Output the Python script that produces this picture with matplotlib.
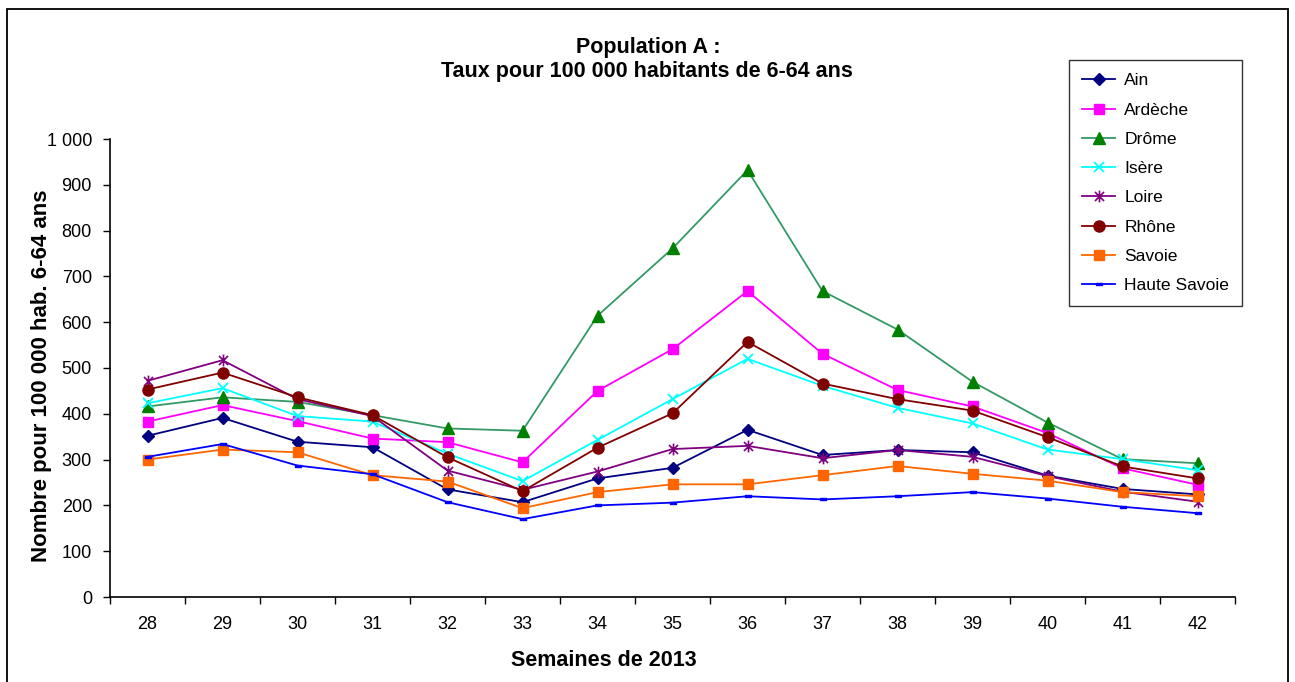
import matplotlib
matplotlib.use("Agg")
import matplotlib.pyplot as plt
from matplotlib.path import Path
from matplotlib.patches import Rectangle
from matplotlib.ticker import FuncFormatter, FixedLocator

plt.rcParams['font.family'] = ['Liberation Sans', 'DejaVu Sans']

# Semaines et taux pour 100 000 habitants de 6-64 ans
weeks = [28, 29, 30, 31, 32, 33, 34, 35, 36, 37, 38, 39, 40, 41, 42]
ain = [352, 391, 339, 327, 235, 207, 259, 282, 365, 310, 321, 316, 265, 236, 224]
ardeche = [383, 419, 384, 346, 338, 294, 450, 541, 668, 531, 452, 416, 358, 281, 245]
drome = [416, 436, 426, 397, 368, 363, 614, 761, 932, 668, 584, 470, 381, 301, 292]
isere = [423, 456, 395, 383, 313, 253, 343, 432, 520, 461, 413, 379, 322, 301, 277]
loire = [472, 517, 432, 395, 276, 234, 274, 323, 330, 303, 321, 306, 264, 230, 208]
rhone = [453, 490, 436, 397, 305, 231, 326, 401, 557, 466, 432, 407, 349, 285, 259]
savoie = [300, 322, 316, 266, 252, 194, 229, 246, 246, 266, 286, 269, 254, 229, 220]
haute_savoie = [306, 334, 287, 268, 207, 170, 200, 206, 220, 213, 220, 229, 215, 197, 183]

# Marqueurs personnalisés : étoile (croix + trait vertical) et tiret court
star_marker = Path(
    [(-1, -1), (1, 1), (-1, 1), (1, -1), (0, -1.3), (0, 1.3)],
    [Path.MOVETO, Path.LINETO, Path.MOVETO, Path.LINETO, Path.MOVETO, Path.LINETO],
)
dash_marker = Path(
    [(-1, -0.35), (1, -0.35), (1, 0.35), (-1, 0.35), (-1, -0.35)],
    [Path.MOVETO, Path.LINETO, Path.LINETO, Path.LINETO, Path.CLOSEPOLY],
)

series = [
    ("Ain", ain, dict(color="#000080", marker="D", ms=6.5, mfc="#000080", mec="#000080")),
    ("Ardèche", ardeche, dict(color="#FF00FF", marker="s", ms=7, mfc="#FF00FF", mec="#FF00FF")),
    ("Drôme", drome, dict(color="#339966", marker="^", ms=8, mfc="#008000", mec="#008000")),
    ("Isère", isere, dict(color="#00FFFF", marker="x", ms=7.5, mec="#00FFFF", mew=1.3)),
    ("Loire", loire, dict(color="#800080", marker=star_marker, ms=8.5, mec="#800080", mew=1.2)),
    ("Rhône", rhone, dict(color="#800000", marker="o", ms=8, mfc="#800000", mec="#800000")),
    ("Savoie", savoie, dict(color="#FF6600", marker="s", ms=7, mfc="#FF6600", mec="#FF6600")),
    ("Haute Savoie", haute_savoie, dict(color="#0000FF", marker=dash_marker, ms=5, mfc="#0000FF", mec="#0000FF")),
]

fig = plt.figure(figsize=(12.95, 6.82), dpi=100)
ax = fig.add_axes([110 / 1295, 85 / 682, 1125 / 1295, 458 / 682])

for name, values, style in series:
    ax.plot(weeks, values, lw=1.3, label=name, **style)

ax.set_xlim(weeks[0] - 0.5, weeks[-1] + 0.5)
ax.set_ylim(0, 1000)
ax.set_yticks(range(0, 1001, 100))
ax.yaxis.set_major_formatter(FuncFormatter(lambda v, p: f"{int(v):,}".replace(",", " ")))
ax.set_xticks(weeks)
ax.set_xticklabels([str(w) for w in weeks])
ax.xaxis.set_minor_locator(FixedLocator([w - 0.5 for w in weeks] + [weeks[-1] + 0.5]))
ax.tick_params(axis="x", which="major", length=0, pad=14, labelsize=13)
ax.tick_params(axis="x", which="minor", length=5, width=1, direction="out")
ax.tick_params(axis="y", length=5, width=1, direction="out", pad=8, labelsize=13)

for side in ("top", "right"):
    ax.spines[side].set_visible(False)
for side in ("left", "bottom"):
    ax.spines[side].set_linewidth(1.2)

fig.text(648 / 1295, 1 - 47 / 682, "Population A :", ha="center", va="center",
         fontsize=15.5, fontweight="bold")
fig.text(647 / 1295, 1 - 71 / 682, "Taux pour 100 000 habitants de 6-64 ans", ha="center",
         va="center", fontsize=15.5, fontweight="bold")
fig.text(42 / 1295, 1 - 376 / 682, "Nombre pour 100 000 hab. 6-64 ans", ha="center",
         va="center", rotation=90, fontsize=16, fontweight="bold")
fig.text(604 / 1295, 1 - 660 / 682, "Semaines de 2013", ha="center", va="center",
         fontsize=15.5, fontweight="bold")

leg = fig.legend(loc="upper left", bbox_to_anchor=(1069 / 1295, 1 - 60 / 682),
                 fontsize=12.6, frameon=True, fancybox=False, edgecolor="black",
                 handlelength=1.9, handletextpad=0.5, labelspacing=0.8,
                 borderpad=0.75, borderaxespad=0)
leg.get_frame().set_linewidth(1.0)

# Cadre extérieur du graphique
fig.patches.append(Rectangle((7 / 1295, -0.05), (1288 - 7) / 1295, 1 - 9 / 682 + 0.05,
                             transform=fig.transFigure, fill=False, edgecolor="black",
                             linewidth=1.3))

fig.savefig("out.png", dpi=100)
